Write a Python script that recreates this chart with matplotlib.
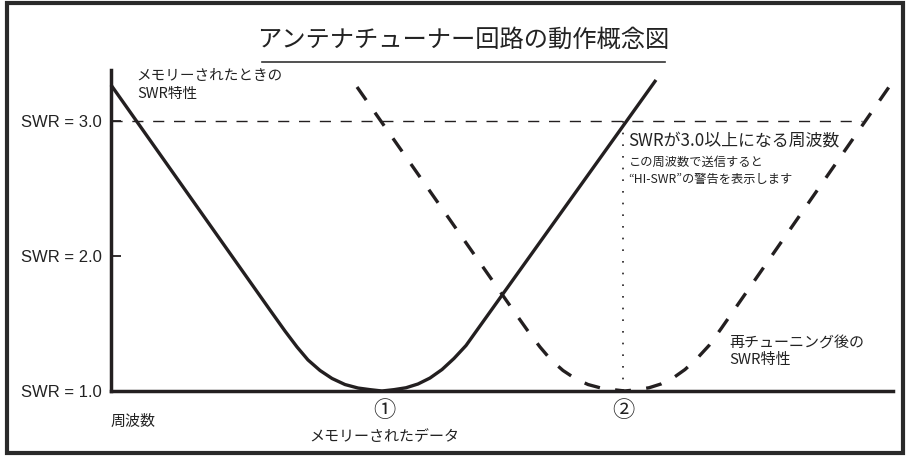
import matplotlib
matplotlib.use("Agg")
import matplotlib.pyplot as plt
from matplotlib.patches import Rectangle
from matplotlib.lines import Line2D

plt.rcParams['font.family'] = ['Noto Sans CJK JP', 'DejaVu Sans']

# ---- data (frequency in arbitrary units 0..100, SWR) ----
memory_freq = [0.0, 20.33, 22.25, 23.79, 25.19, 26.73, 28.26, 29.92, 31.59, 33.12,
               34.65, 36.19, 37.72, 39.26, 40.79, 42.33, 43.86, 45.40, 46.93, 69.69]
memory_swr = [3.267, 1.600, 1.444, 1.326, 1.230, 1.152, 1.093, 1.048, 1.022, 1.010,
              1.000, 1.010, 1.024, 1.052, 1.096, 1.159, 1.241, 1.337, 1.461, 3.304]

retune_freq = [31.46, 51.41, 53.32, 54.86, 56.27, 57.80, 59.34, 61.00, 62.66, 64.19,
               65.73, 67.26, 68.80, 70.33, 71.87, 73.40, 74.94, 76.47, 78.01, 99.49]
retune_swr = [3.252, 1.600, 1.444, 1.326, 1.230, 1.152, 1.093, 1.048, 1.022, 1.010,
              1.000, 1.010, 1.024, 1.052, 1.096, 1.159, 1.241, 1.337, 1.461, 3.252]

swr_ticks = [1.0, 2.0, 3.0]
swr_tick_labels = ["SWR = 1.0", "SWR = 2.0", "SWR = 3.0"]
swr_limit = 3.0
limit_end_freq = 96.0
memory_marker_freq = 35.0
retune_marker_freq = 65.5

INK = "#231f20"

fig = plt.figure(figsize=(9.06, 4.57), dpi=100)
W, H = 906, 457

# outer frame
fig.patches.append(Rectangle((7 / W, 4 / H), 896 / W, 450 / H, transform=fig.transFigure,
                             fill=False, lw=3.0, edgecolor="#2a2a2a"))

ax = fig.add_axes([111 / W, (H - 391) / H, (893 - 111) / W, (391 - 70) / H])
ax.set_xlim(0, 100)
ax.set_ylim(1.0, 1.0 + 321 / 135)
for s in ["top", "right"]:
    ax.spines[s].set_visible(False)
for s in ["left", "bottom"]:
    ax.spines[s].set_linewidth(2.5)
    ax.spines[s].set_color(INK)
    ax.spines[s].set_capstyle("projecting")

ax.set_xticks([])
ax.set_yticks(swr_ticks)
ax.set_yticklabels(swr_tick_labels, family=["Liberation Sans"], fontsize=12, color="#222222")
ax.tick_params(axis="y", direction="in", length=7.5, width=1.3, color=INK, pad=6.5)

# curves
ax.plot(memory_freq, memory_swr, color=INK, lw=2.4, solid_capstyle="butt",
        solid_joinstyle="round", clip_on=False)
ax.plot(retune_freq, retune_swr, color=INK, lw=2.4, linestyle=(0, (4.8, 4.6)),
        dash_capstyle="butt", clip_on=False)

# SWR = 3.0 limit line
ax.plot([0, limit_end_freq], [swr_limit, swr_limit], color=INK, lw=1.0,
        linestyle=(0, (8, 7)), clip_on=False)
# dotted vertical at retuned frequency
ax.plot([retune_marker_freq, retune_marker_freq], [1.0, swr_limit], color=INK, lw=1.2,
        linestyle=(0, (1, 6)), clip_on=False)

# texts
ax.text(3.3, 3.385, "メモリーされたときの\nSWR特性", fontsize=10.5, va="top", ha="left",
        linespacing=1.35, color="#222222")
ax.text(66.2, 2.852, "SWRが3.0以上になる周波数", fontsize=12.2, va="center", ha="left",
        color="#222222")
ax.text(66.2, 2.696, "この周波数で送信すると", fontsize=8.8, va="center", ha="left",
        color="#222222")
ax.text(66.2, 2.563, "“HI-SWR”の警告を表示します", fontsize=8.8, va="center", ha="left",
        color="#222222")
ax.text(79.1, 1.29, "再チューニング後の\nSWR特性", fontsize=10.8, va="center", ha="left",
        linespacing=1.25, color="#222222")
ax.text(-0.1, 0.77, "周波数", fontsize=10.8, va="center", ha="left", color="#222222",
        clip_on=False)
ax.text(memory_marker_freq, 0.855, "①", fontsize=16, va="center", ha="center",
        color="#222222")
ax.text(retune_marker_freq, 0.855, "②", fontsize=16, va="center", ha="center",
        color="#222222")
ax.text(memory_marker_freq, 0.659, "メモリーされたデータ", fontsize=10.8, va="center",
        ha="center", color="#222222")

# title with underline
fig.text(463 / W, (H - 40) / H, "アンテナチューナー回路の動作概念図", fontsize=17.5,
         ha="center", va="center", color="#222222")
fig.lines.append(Line2D([262 / W, 665 / W], [(H - 62) / H, (H - 62) / H],
                        transform=fig.transFigure, color="#333333", lw=1.2))

fig.savefig("out.png", dpi=100)
